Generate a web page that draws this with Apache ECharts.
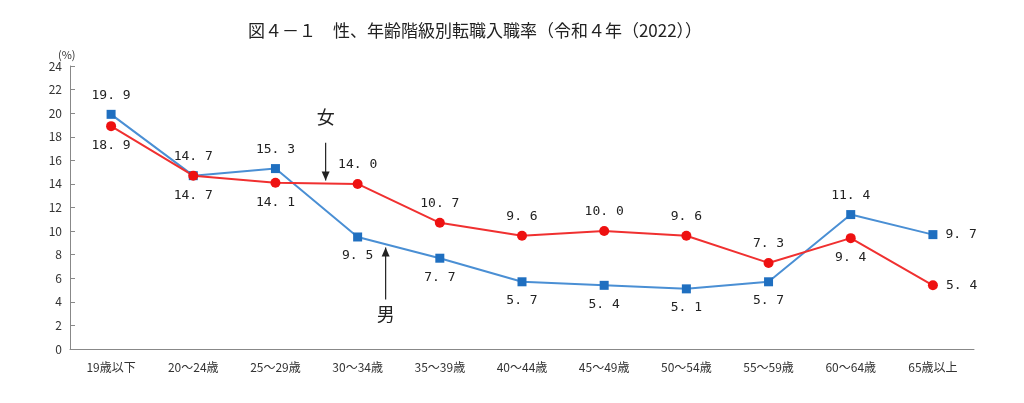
<!DOCTYPE html>
<html><head><meta charset="utf-8">
<script src="https://cdn.jsdelivr.net/npm/echarts@6/dist/echarts.min.js"></script>
<style>body{margin:0;background:#fff}#c{width:1024px;height:403px}</style>
</head><body><div id="c"></div>
<script>
var categories = ['19歳以下','20～24歳','25～29歳','30～34歳','35～39歳','40～44歳','45～49歳','50～54歳','55～59歳','60～64歳','65歳以上'];
var maleValues = [19.9,14.7,15.3,9.5,7.7,5.7,5.4,5.1,5.7,11.4,9.7];
var femaleValues = [18.9,14.7,14.1,14.0,10.7,9.6,10.0,9.6,7.3,9.4,5.4];
var malePos = ['top','top','top','bottom','bottom','bottom','bottom','bottom','bottom','top','right'];
var femalePos = ['bottom','bottom','bottom','top','top','top','top','top','top','bottom','right'];
var yTicks = [0,2,4,6,8,10,12,14,16,18,20,22,24];

var font = '"Noto Sans CJK JP", sans-serif';
function mkData(vals, pos) {
  return vals.map(function (v, i) {
    return { value: v, label: { position: pos[i], distance: 8 } };
  });
}
var chart = echarts.init(document.getElementById('c'));
chart.setOption({
  animation: false,
  title: { text: '図４－１　性、年齢階級別転職入職率（令和４年（2022））', left: 470, textAlign: 'center', top: 17,
    textStyle: { fontFamily: font, fontSize: 17, fontWeight: 'normal', color: '#222' } },
  grid: { left: 70, right: 50, top: 66, bottom: 54 },
  xAxis: { type: 'category', data: categories,
    axisLine: { lineStyle: { color: '#888' } }, axisTick: { show: false },
    axisLabel: { fontFamily: font, fontSize: 12, color: '#333', margin: 12 } },
  yAxis: { type: 'value', min: yTicks[0], max: yTicks[yTicks.length - 1], interval: 2,
    name: '(%)', nameGap: 6, nameTextStyle: { fontFamily: font, fontSize: 11, color: '#333', align: 'left', padding: [0, 0, 0, -12] },
    splitLine: { show: false }, axisLine: { show: true, lineStyle: { color: '#888' } },
    axisTick: { show: true, inside: true, lineStyle: { color: '#888' } },
    axisLabel: { fontFamily: font, fontSize: 12, color: '#333' } },
  series: [
    { name: '男', type: 'line', data: mkData(maleValues, malePos), symbol: 'rect', symbolSize: 9,
      lineStyle: { color: '#4a8fd4', width: 2 }, itemStyle: { color: '#1f6fc0' },
      label: { show: true, fontFamily: 'DejaVu Sans Mono, monospace', fontSize: 13, color: '#222',
        formatter: function (p) { return p.value.toFixed(1).replace('.', '. '); } } },
    { name: '女', type: 'line', data: mkData(femaleValues, femalePos), symbol: 'circle', symbolSize: 10,
      lineStyle: { color: '#f03030', width: 2 }, itemStyle: { color: '#ee1111' },
      label: { show: true, fontFamily: 'DejaVu Sans Mono, monospace', fontSize: 13, color: '#222',
        formatter: function (p) { return p.value.toFixed(1).replace('.', '. '); } } }
  ]
});
var a = chart.convertToPixel({ gridIndex: 0 }, [3, 0]);
var fx = a[0] - 32, mx = a[0] + 28;
var yf1 = chart.convertToPixel({ gridIndex: 0 }, [0, 17.5])[1], yf2 = chart.convertToPixel({ gridIndex: 0 }, [0, 14.3])[1];
var ym1 = chart.convertToPixel({ gridIndex: 0 }, [0, 4.2])[1], ym2 = chart.convertToPixel({ gridIndex: 0 }, [0, 8.6])[1];
chart.setOption({ graphic: [
  { type: 'text', left: fx - 9, top: yf1 - 34, style: { text: '女', font: '18px ' + font, fill: '#222' } },
  { type: 'line', shape: { x1: fx, y1: yf1, x2: fx, y2: yf2 }, style: { stroke: '#222', lineWidth: 1.2 } },
  { type: 'polygon', shape: { points: [[fx - 4, yf2 - 9], [fx + 4, yf2 - 9], [fx, yf2]] }, style: { fill: '#222' } },
  { type: 'line', shape: { x1: mx, y1: ym1, x2: mx, y2: ym2 }, style: { stroke: '#222', lineWidth: 1.2 } },
  { type: 'polygon', shape: { points: [[mx - 4, ym2 + 9], [mx + 4, ym2 + 9], [mx, ym2]] }, style: { fill: '#222' } },
  { type: 'text', left: mx - 9, top: ym1 + 6, style: { text: '男', font: '18px ' + font, fill: '#222' } }
] });
</script></body></html>
